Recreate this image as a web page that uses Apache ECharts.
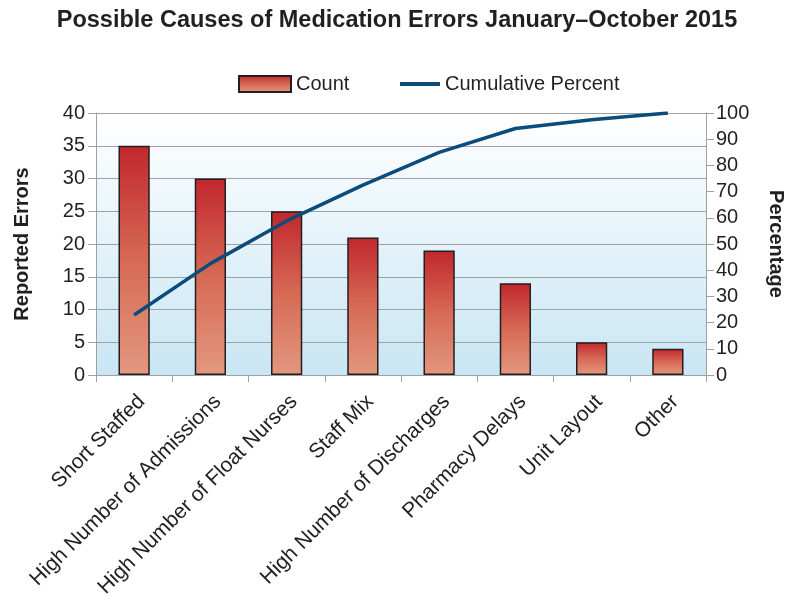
<!DOCTYPE html>
<html>
<head>
<meta charset="utf-8">
<script src="https://cdn.jsdelivr.net/npm/echarts@6/dist/echarts.min.js"></script>
<style>
  html, body { margin: 0; padding: 0; background: #fff; }
  #chart { width: 794px; height: 603px; }
</style>
</head>
<body>
<div id="chart"></div>
<script>
// data
var categories = ['Short Staffed', 'High Number of Admissions', 'High Number of Float Nurses',
  'Staff Mix', 'High Number of Discharges', 'Pharmacy Delays', 'Unit Layout', 'Other'];
var counts = [35, 30, 25, 21, 19, 14, 5, 4];
var cumulative = [22.9, 42.5, 58.8, 72.5, 85.0, 94.1, 97.4, 100];
var leftTicks = [0, 40, 5];
var rightTicks = [0, 100, 10];

var textColor = '#231f20';
var font = 'Liberation Sans';
var chart = echarts.init(document.getElementById('chart'));

chart.setOption({
  animation: false,
  title: {
    text: 'Possible Causes of Medication Errors January\u2013October 2015',
    left: 'center',
    top: 4,
    textStyle: { fontFamily: font, fontSize: 23.5, fontWeight: 'bold', color: textColor }
  },
  legend: [{
    data: ['Count'],
    top: 69,
    left: 233,
    icon: 'rect',
    itemWidth: 52,
    itemHeight: 16,
    itemGap: 6,
    textStyle: { fontFamily: font, fontSize: 20, color: textColor }
  }, {
    data: ['Cumulative Percent'],
    top: 69,
    left: 395,
    icon: 'rect',
    itemWidth: 40,
    itemHeight: 4,
    itemGap: 6,
    textStyle: { fontFamily: font, fontSize: 20, color: textColor }
  }],
  grid: {
    left: 96, right: 83, top: 113, bottom: 228,
    show: true,
    borderWidth: 0,
    backgroundColor: new echarts.graphic.LinearGradient(0, 0, 0, 1, [
      { offset: 0, color: '#ffffff' },
      { offset: 1, color: '#c9e6f4' }
    ])
  },
  xAxis: {
    type: 'category',
    data: categories,
    axisLine: { lineStyle: { color: '#a0a0a0', width: 1 } },
    axisTick: { show: true, length: 7, lineStyle: { color: '#a0a0a0' } },
    axisLabel: {
      interval: 0, rotate: 45, margin: 16, verticalAlign: 'top',
      fontFamily: font, fontSize: 21, color: textColor
    }
  },
  yAxis: [{
    type: 'value',
    min: leftTicks[0], max: leftTicks[1], interval: leftTicks[2],
    name: 'Reported Errors',
    nameLocation: 'middle',
    nameGap: 64,
    nameTextStyle: { fontFamily: font, fontSize: 20, fontWeight: 'bold', color: textColor },
    axisLine: { show: true, lineStyle: { color: '#a0a0a0' } },
    axisTick: { show: true, length: 8, lineStyle: { color: '#a0a0a0' } },
    axisLabel: { fontFamily: font, fontSize: 20, color: textColor, margin: 11 },
    splitLine: { lineStyle: { color: '#a0a0a0', width: 1 } }
  }, {
    type: 'value',
    min: rightTicks[0], max: rightTicks[1], interval: rightTicks[2],
    name: 'Percentage',
    nameLocation: 'middle',
    nameRotate: -90,
    nameGap: 60,
    nameTextStyle: { fontFamily: font, fontSize: 20, fontWeight: 'bold', color: textColor },
    axisLine: { show: true, lineStyle: { color: '#a0a0a0' } },
    axisTick: { show: true, length: 8, lineStyle: { color: '#a0a0a0' } },
    axisLabel: { fontFamily: font, fontSize: 20, color: textColor, margin: 10 },
    splitLine: { show: false }
  }],
  series: [{
    name: 'Count',
    type: 'bar',
    data: counts,
    barWidth: '41%',
    itemStyle: {
      color: new echarts.graphic.LinearGradient(0, 0, 0, 1, [
        { offset: 0, color: '#c1272d' },
        { offset: 0.5, color: '#d66a55' },
        { offset: 1, color: '#e3987f' }
      ]),
      borderColor: '#231f20',
      borderWidth: 1.5
    }
  }, {
    name: 'Cumulative Percent',
    type: 'line',
    yAxisIndex: 1,
    data: cumulative,
    symbol: 'none',
    lineStyle: { color: '#0b4c7c', width: 3.5 },
    itemStyle: { color: '#0b4c7c' }
  }]
});
</script>
</body>
</html>
